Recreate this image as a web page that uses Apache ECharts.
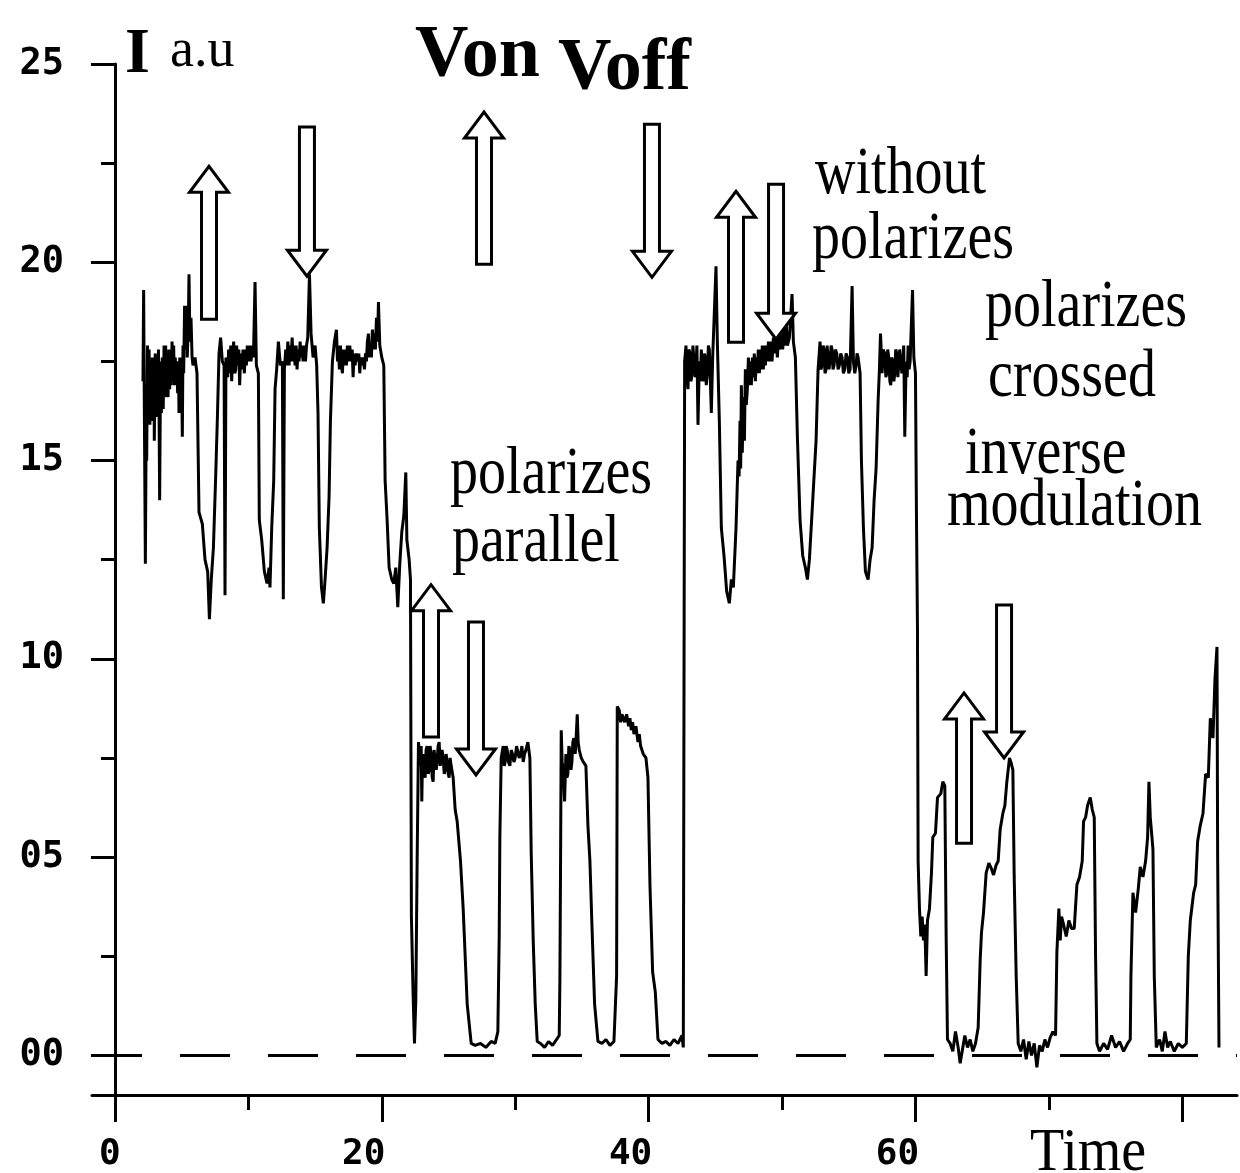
<!DOCTYPE html>
<html>
<head>
<meta charset="utf-8">
<script src="https://cdn.jsdelivr.net/npm/echarts@6/dist/echarts.min.js"></script>
<style>
html,body{margin:0;padding:0;background:#fff;}
#chart{width:1240px;height:1173px;}
</style>
</head>
<body>
<div id="chart"></div>
<script>
// ---- tick values ----
const yMajorTicks = [0, 5, 10, 15, 20, 25];
const yMinorTicks = [2.5, 7.5, 12.5, 17.5, 22.5];
const xMajorTicks = [0, 20, 40, 60, 80];
const xMinorTicks = [10, 30, 50, 70];
const xTickLabels = [0, 20, 40, 60];
const baselineLevel = 0;

// ---- signal: [time, intensity] ----
// without polarizers (first part)
const withoutPolarizersA = [
[2.10,17.0],[2.15,19.3],[2.20,16.5],[2.28,12.4],[2.34,15.8],[2.38,15.0],[2.44,17.9],[2.50,16.2],[2.56,17.8],[2.62,15.9],
[2.68,17.5],[2.74,16.0],[2.80,17.6],[2.86,16.4],[2.92,17.4],[2.95,15.5],[3.02,17.7],[3.08,16.1],[3.14,17.2],[3.20,16.4],
[3.26,17.8],[3.30,16.6],[3.35,14.0],[3.42,17.5],[3.48,16.2],[3.55,17.6],[3.62,16.3],[3.68,17.9],[3.74,16.7],[3.80,17.9],
[3.86,16.6],[3.92,17.3],[3.98,16.6],[4.04,17.8],[4.10,16.8],[4.16,17.6],[4.22,16.9],[4.28,18.0],[4.34,17.0],[4.40,17.9],
[4.46,16.9],[4.52,17.6],[4.58,17.0],[4.64,17.4],[4.70,16.7],[4.76,17.5],[4.80,16.2],[4.86,17.6],[4.92,16.8],[4.98,17.6],
[5.05,15.6],[5.10,17.9],[5.15,17.2],[5.22,18.9],[5.30,17.8],[5.36,18.9],[5.42,17.6],[5.50,18.4],[5.55,19.7],[5.62,18.0],
[5.70,18.6],[5.78,17.6],[5.85,17.4],[6.00,17.6],[6.15,17.2],[6.30,13.7],[6.55,13.4],[6.75,12.5],[6.95,12.2],[7.08,11.0],
[7.22,12.0],[7.38,12.8],[7.55,14.6],[7.68,16.1],[7.80,17.7],[7.92,18.1],[8.05,17.5],[8.18,17.4],[8.25,11.6],[8.32,17.6],
[8.45,17.1],[8.52,17.8],[8.60,17.2],[8.68,17.9],[8.75,17.0],[8.82,17.7],[8.90,18.0],[8.98,17.2],[9.05,17.3],[9.12,17.9],
[9.20,17.4],[9.28,17.8],[9.35,16.9],[9.42,17.7],[9.50,17.3],[9.60,17.8],[9.70,17.2],[9.78,17.8],[9.85,17.4],[9.92,17.9],
[10.00,17.5],[10.10,17.9],[10.20,17.5],[10.30,17.9],[10.38,17.6],[10.50,19.5],[10.60,17.4],[10.75,17.2],[10.82,13.5],[11.00,13.0],
[11.20,12.2],[11.40,11.9],[11.55,12.3],[11.62,11.8],[11.75,13.3],[11.90,14.5],[12.00,16.8],[12.12,17.3],[12.25,18.0],[12.40,17.4],
[12.55,17.5],[12.62,11.5],[12.70,17.3],[12.80,17.8],[12.88,17.4],[12.96,18.0],[13.05,17.4],[13.12,17.9],[13.20,17.5],[13.28,18.1],
[13.35,17.5],[13.42,17.9],[13.50,17.4],[13.58,17.9],[13.65,17.3],[13.72,17.8],[13.80,17.5],[13.88,18.0],[13.95,17.6],[14.02,17.9],
[14.10,17.5],[14.20,17.9],[14.28,17.5],[14.36,17.9],[14.45,18.1],[14.58,19.7],[14.70,18.2],[14.85,17.6],[15.00,17.9],[15.12,17.4],
[15.22,16.2],[15.32,13.3],[15.48,11.8],[15.62,11.4],[15.75,12.0],[15.90,12.8],[16.05,14.1],[16.15,16.0],[16.30,17.5],[16.45,18.0],
[16.60,18.3],[16.68,17.5],[16.75,17.9],[16.82,17.3],[16.90,17.9],[16.98,17.4],[17.05,17.2],[17.12,17.8],[17.20,17.4],[17.28,17.8],
[17.35,17.4],[17.42,17.9],[17.50,17.5],[17.60,17.9],[17.70,17.5],[17.78,17.8],[17.85,17.1],[17.92,17.7],[18.00,17.4],[18.10,17.7],
[18.20,17.5],[18.28,17.7],[18.35,17.2],[18.42,17.6],[18.50,17.4],[18.60,17.6],[18.70,17.3],[18.78,17.7],[18.85,17.5],[18.92,18.0],
[19.00,18.2],[19.08,17.6],[19.15,17.9],[19.22,17.6],[19.30,18.3],[19.38,17.8],[19.45,18.2],[19.52,17.8],[19.60,18.6],[19.68,18.0],
[19.75,19.0],[19.85,17.9],[20.00,17.6],[20.15,17.4],[20.25,14.5],[20.40,13.5],[20.55,12.3],[20.75,12.0],[20.90,11.9],[21.05,12.3],
[21.20,11.3],[21.35,12.4],[21.50,13.2],[21.65,13.6],[21.80,14.7],[21.88,13.0],[22.05,12.5],[22.15,12.0],[22.22,3.5],[22.35,1.5],
[22.45,0.3],[22.55,1.4],[22.65,4.9],[22.75,7.9]
];
// polarizers parallel
const parallelPolarizers = [
[22.90,7.3],[22.95,7.8],[23.00,6.4],[23.05,7.5],[23.10,7.6],[23.18,7.1],[23.25,7.0],[23.32,7.7],[23.40,7.8],[23.48,7.1],
[23.55,7.2],[23.62,7.8],[23.70,7.6],[23.78,7.0],[23.85,6.9],[23.92,7.7],[24.00,7.7],[24.08,7.2],[24.15,7.4],[24.22,7.8],
[24.30,7.9],[24.38,7.3],[24.45,7.3],[24.52,7.7],[24.60,7.5],[24.68,7.1],[24.75,7.2],[24.82,7.6],[24.90,7.4],[24.98,7.1],
[25.05,7.0],[25.12,7.5],[25.20,7.3],[25.35,7.0],[25.50,6.2],[25.65,5.9],[25.90,4.9],[26.10,3.7],[26.25,2.5],[26.40,1.3],
[26.70,0.3],[27.00,0.25],[27.40,0.3],[27.80,0.2],[28.20,0.35],[28.50,0.3],[28.70,0.6],[28.80,3.0],[28.85,5.5],[28.95,7.5],
[29.10,7.8],[29.18,7.3],[29.25,7.4],[29.32,7.8],[29.40,7.7],[29.50,7.4],[29.60,7.3],[29.70,7.7],[29.80,7.6],[29.90,7.4],
[30.00,7.5],[30.10,7.8],[30.20,7.8],[30.30,7.5],[30.40,7.6],[30.50,7.8],[30.60,7.4],[30.70,7.6],[30.80,7.7],[30.95,7.9],
[31.10,7.5],[31.20,5.1],[31.35,2.9],[31.50,1.3],[31.65,0.35],[31.90,0.3],[32.20,0.2],[32.50,0.35],[32.80,0.25],[33.10,0.4],
[33.30,0.5],[33.35,1.9],[33.40,4.9],[33.45,8.2],[33.52,7.4],[33.60,7.2],[33.70,6.4],[33.80,7.6],[33.88,7.0],[33.95,7.1],
[34.02,7.8],[34.10,7.7],[34.18,7.2],[34.25,7.4],[34.32,7.9],[34.40,8.0],[34.50,7.6],[34.58,8.1],[34.65,8.6],[34.72,7.9],
[34.80,7.7],[34.95,7.5],[35.10,7.4],[35.30,7.3],[35.45,5.8],[35.60,4.9],[35.75,3.3],[35.95,1.3],[36.20,0.35],[36.50,0.3],
[36.80,0.4],[37.10,0.25],[37.40,0.35],[37.60,2.0],[37.65,8.8],[37.80,8.7],[37.90,8.4],[38.00,8.6],[38.10,8.5],[38.20,8.4],
[38.35,8.6],[38.50,8.3],[38.60,8.5],[38.70,8.2],[38.80,8.4],[38.90,8.1],[39.05,8.3],[39.20,7.9],[39.30,8.1],[39.40,7.8],
[39.60,7.6],[39.80,7.5],[39.95,7.0],[40.10,4.3],[40.30,2.1],[40.50,1.6],[40.70,0.4],[41.00,0.3],[41.30,0.35],[41.60,0.25],
[41.90,0.4],[42.20,0.3],[42.50,0.5],[42.60,0.2],[42.65,9.0],[42.70,17.5]
];
// without polarizers (second part)
const withoutPolarizersB = [
[42.80,17.9],[42.88,17.1],[42.95,16.8],[43.02,17.8],[43.10,17.7],[43.18,17.0],[43.25,17.2],[43.32,17.9],[43.40,17.9],[43.48,17.1],
[43.55,17.4],[43.62,17.9],[43.70,15.9],[43.80,17.5],[43.88,17.0],[43.95,17.8],[44.02,17.2],[44.10,17.0],[44.18,17.7],[44.25,17.6],
[44.32,16.9],[44.40,17.2],[44.48,17.9],[44.55,17.8],[44.62,17.1],[44.70,16.2],[44.80,17.6],[44.90,18.5],[45.05,19.9],[45.15,18.0],
[45.30,16.0],[45.45,13.3],[45.65,12.6],[45.85,11.7],[46.05,11.4],[46.20,12.0],[46.35,11.8],[46.55,13.3],[46.70,15.0],[46.78,14.6],
[46.85,16.0],[46.90,14.8],[46.95,16.9],[47.02,15.2],[47.10,16.6],[47.18,15.5],[47.25,17.3],[47.32,16.4],[47.40,16.8],[47.48,17.6],
[47.55,16.9],[47.62,17.5],[47.70,16.9],[47.78,17.6],[47.85,17.1],[47.92,17.7],[48.00,17.0],[48.08,17.6],[48.15,17.2],[48.22,17.8],
[48.30,17.2],[48.38,17.8],[48.45,17.3],[48.52,17.9],[48.60,17.3],[48.68,17.9],[48.75,17.4],[48.82,17.9],[48.90,17.5],[48.98,18.0],
[49.05,17.5],[49.15,18.0],[49.25,17.5],[49.35,18.1],[49.45,17.7],[49.55,18.1],[49.65,17.6],[49.75,18.2],[49.85,17.8],[49.95,18.3],
[50.05,17.8],[50.15,18.3],[50.25,17.9],[50.32,18.4],[50.40,17.9],[50.55,18.1],[50.75,19.2],[50.85,18.0],[51.00,17.6],[51.15,15.6],
[51.35,13.5],[51.55,12.6],[51.75,12.3],[51.90,12.0],[52.05,12.5],[52.25,13.7],[52.40,14.6],[52.55,15.5],[52.70,17.3],[52.85,18.0],
[52.92,17.3],[53.00,17.4],[53.08,17.9],[53.15,17.8],[53.22,17.2],[53.30,17.3],[53.38,17.9],[53.45,17.9],[53.52,17.3],[53.60,17.5],
[53.68,17.9],[53.75,17.8],[53.82,17.3],[53.90,17.4],[54.00,17.8],[54.10,17.7],[54.20,17.3],[54.30,17.4],[54.40,17.7],[54.50,17.6],
[54.60,17.2],[54.70,17.3],[54.80,17.7],[54.90,17.6],[55.00,17.2],[55.10,17.3],[55.25,19.4],[55.35,17.5],[55.45,17.2],[55.55,17.4],
[55.62,17.7],[55.70,17.6],[55.85,17.2],[55.95,15.0],[56.10,13.3],[56.25,12.2],[56.45,12.0],[56.60,12.5],[56.75,12.8],[56.90,14.0],
[57.05,14.8],[57.20,16.5],[57.30,17.3],[57.38,18.2],[57.50,17.2],[57.58,17.8],[57.70,17.7],[57.78,17.1],[57.85,17.2],[57.92,17.8],
[58.00,17.6],[58.08,17.0],[58.15,16.9],[58.22,17.6],[58.30,17.5],[58.38,17.0],[58.45,17.2],[58.52,17.8],[58.60,17.7],[58.68,17.1],
[58.75,17.1],[58.82,17.8],[58.90,17.8],[58.98,17.2],[59.05,17.4],[59.12,17.9],[59.20,15.6],[59.30,17.5],[59.38,17.1],[59.45,17.9],
[59.52,17.3],[59.60,17.5],[59.78,19.3],[59.88,17.6],[60.00,17.2],[60.08,13.4],[60.15,10.8]
];
// polarizers crossed (inverse modulation)
const crossedPolarizers = [
[60.20,4.9],[60.30,3.7],[60.40,3.0],[60.50,3.5],[60.60,2.9],[60.70,3.3],[60.80,2.0],[60.90,3.4],[61.05,3.7],[61.20,4.6],
[61.30,5.5],[61.50,5.6],[61.65,6.5],[61.90,6.6],[62.05,6.9],[62.20,6.8],[62.30,3.0],[62.40,0.4],[62.60,0.3],[62.80,0.1],
[63.00,0.6],[63.20,0.2],[63.35,-0.2],[63.50,0.1],[63.70,0.5],[63.90,0.2],[64.10,0.4],[64.30,0.1],[64.50,0.3],[64.70,0.7],
[64.85,2.4],[64.95,3.1],[65.10,3.6],[65.30,4.6],[65.50,4.85],[65.70,4.7],[65.85,4.55],[66.05,4.8],[66.20,4.9],[66.35,5.7],
[66.55,6.1],[66.70,6.3],[66.85,6.9],[67.05,7.5],[67.15,7.4],[67.30,7.2],[67.40,4.5],[67.55,2.0],[67.70,0.3],[67.90,0.1],
[68.10,0.4],[68.30,-0.1],[68.50,0.35],[68.70,0.0],[68.90,0.3],[69.10,-0.3],[69.30,0.25],[69.50,0.1],[69.70,0.4],[69.90,0.2],
[70.10,0.45],[70.30,0.6],[70.50,0.5],[70.60,2.6],[70.75,3.7],[70.85,2.9],[70.95,3.5],[71.10,3.3],[71.30,3.0],[71.50,3.4],
[71.70,3.2],[71.90,3.2],[72.10,4.3],[72.30,4.5],[72.50,4.9],[72.60,5.9],[72.75,6.0],[72.90,6.3],[73.10,6.5],[73.25,6.2],
[73.40,6.0],[73.50,2.5],[73.60,0.3],[73.80,0.1],[74.10,0.3],[74.40,0.15],[74.70,0.5],[75.00,0.2],[75.30,0.35],[75.60,0.1],
[75.90,0.3],[76.10,0.4],[76.15,2.0],[76.30,4.1],[76.50,3.6],[76.70,4.2],[76.85,4.75],[77.05,4.5],[77.25,4.9],[77.40,5.5],
[77.50,6.9],[77.60,6.0],[77.80,5.2],[77.90,2.0],[78.05,0.2],[78.30,0.4],[78.50,0.1],[78.70,0.6],[78.90,0.2],[79.10,0.35],
[79.40,0.1],[79.70,0.3],[80.00,0.2],[80.30,0.3],[80.45,2.5],[80.60,3.4],[80.85,4.1],[81.00,4.3],[81.15,5.4],[81.35,5.8],
[81.55,6.1],[81.75,7.1],[81.95,7.0],[82.10,8.5],[82.30,8.0],[82.45,9.5],[82.60,10.3],[82.65,5.0],[82.75,0.2]
];

// V on / V off arrows: [time, tail intensity, tip intensity]
const arrowMarks = [
[7.05, 18.56, 22.42],
[14.39, 23.41, 19.65],
[27.66, 19.95, 23.79],
[40.25, 23.48, 19.62],
[46.55, 17.98, 21.79],
[49.55, 21.97, 18.06],
[23.69, 8.03, 11.87],
[27.06, 10.93, 7.07],
[63.64, 5.35, 9.14],
[66.64, 11.36, 7.50]
];

const signal = withoutPolarizersA.concat(parallelPolarizers, withoutPolarizersB, crossedPolarizers);

const serif = '"Liberation Serif", "Times New Roman", serif';
const numFont = '"DejaVu Sans Mono", monospace';

function txt(text, x, y, size, bold, sy) {
  return {
    type: 'text', x: x, y: y, scaleY: sy || 1, z: 100,
    style: {
      text: text, x: 0, y: 0,
      font: (bold ? 'bold ' : '') + size + 'px ' + serif,
      fill: '#000', textAlign: 'left', textVerticalAlign: 'middle'
    }
  };
}

const chart = echarts.init(document.getElementById('chart'), null, {renderer: 'canvas'});
const axisColor = '#000';
const option = {
  animation: false,
  backgroundColor: '#fff',
  grid: {left: 92, right: 3, top: 64, bottom: 78, containLabel: false},
  xAxis: [
    {
      type: 'value', min: -1.72, max: 84.1, position: 'bottom',
      axisLine: {show: true, onZero: false, lineStyle: {color: axisColor, width: 3}},
      axisTick: {show: true, customValues: xMajorTicks, length: 27, lineStyle: {color: axisColor, width: 3}},
      axisLabel: {
        show: true, customValues: xTickLabels, margin: 42, color: '#000',
        fontFamily: numFont, fontWeight: 'bold', fontSize: 36,
        formatter: function (v) { return v === 0 ? '{a|0}' : '{b|' + v + '}'; },
        rich: {
          a: {fontFamily: numFont, fontWeight: 'bold', fontSize: 36, color: '#000', padding: [0, 10, 0, 0]},
          b: {fontFamily: numFont, fontWeight: 'bold', fontSize: 36, color: '#000', padding: [0, 36, 0, 0]}
        }
      },
      splitLine: {show: false}
    },
    {
      type: 'value', min: -1.72, max: 84.1, position: 'bottom',
      axisLine: {show: false, onZero: false},
      axisTick: {show: true, customValues: xMinorTicks, length: 15, lineStyle: {color: axisColor, width: 3}},
      axisLabel: {show: false},
      splitLine: {show: false}
    }
  ],
  yAxis: [
    {
      type: 'value', min: -1, max: 25, position: 'left',
      axisLine: {show: true, onZero: true, lineStyle: {color: axisColor, width: 3}},
      axisTick: {show: true, customValues: yMajorTicks, length: 24, lineStyle: {color: axisColor, width: 3}},
      axisLabel: {
        show: true, customValues: yMajorTicks, margin: 28, color: '#000',
        fontFamily: numFont, fontWeight: 'bold', fontSize: 37,
        formatter: function (v) { return (v < 10 ? '0' : '') + v; }
      },
      splitLine: {show: false}
    },
    {
      type: 'value', min: -1, max: 25, position: 'left',
      axisLine: {show: false, onZero: true},
      axisTick: {show: true, customValues: yMinorTicks, length: 14, lineStyle: {color: axisColor, width: 3}},
      axisLabel: {show: false},
      splitLine: {show: false}
    }
  ],
  series: [
    {
      type: 'line', xAxisIndex: 0, yAxisIndex: 0,
      data: signal, showSymbol: false, symbol: 'none',
      lineStyle: {color: '#000', width: 3},
      z: 2,
      markLine: {
        silent: true, symbol: ['none', 'none'],
        label: {show: false},
        lineStyle: {color: '#000', width: 3, type: [50, 38]},
        data: [{yAxis: baselineLevel}]
      }
    },
    {
      type: 'custom', xAxisIndex: 0, yAxisIndex: 0, z: 5,
      data: arrowMarks,
      encode: {x: 0, y: [1, 2]},
      renderItem: function (params, api) {
        const x = api.value(0), yTail = api.value(1), yTip = api.value(2);
        const a = api.coord([x, yTail]);
        const b = api.coord([x, yTip]);
        const cx = a[0];
        const dir = b[1] < a[1] ? -1 : 1;
        const hw = 7.5, hh = 19.5, hl = 26;
        const baseY = b[1] - dir * hl;
        return {
          type: 'polygon',
          shape: {points: [[cx - hw, a[1]], [cx + hw, a[1]], [cx + hw, baseY], [cx + hh, baseY], [cx, b[1]], [cx - hh, baseY], [cx - hw, baseY]]},
          style: {fill: '#fff', stroke: '#000', lineWidth: 3, lineJoin: 'miter'}
        };
      }
    }
  ],
  graphic: {
    elements: [
      txt('I', 125, 55, 64, true),
      txt('a.u', 170, 52, 54, false),
      txt('Von', 415, 57, 74, true),
      txt('Voff', 558, 70, 74, true),
      txt('without', 815, 175, 56, false, 1.2),
      txt('polarizes', 812, 240, 56, false, 1.2),
      txt('polarizes', 985, 308, 56, false, 1.2),
      txt('crossed', 988, 378, 56, false, 1.2),
      txt('inverse', 965, 455, 56, false, 1.2),
      txt('modulation', 947, 507, 56, false, 1.2),
      txt('polarizes', 450, 475, 56, false, 1.2),
      txt('parallel', 452, 543, 56, false, 1.2),
      txt('Time', 1030, 1154, 56, false, 1.1)
    ]
  }
};
chart.setOption(option);
</script>
</body>
</html>
